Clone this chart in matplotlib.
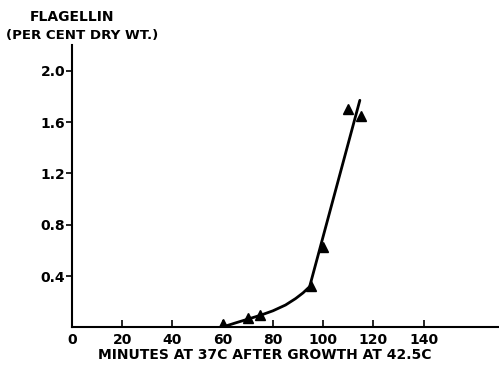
import matplotlib
matplotlib.use("Agg")
import matplotlib.pyplot as plt

# Measured data (triangles)
minutes = [60, 70, 75, 95, 100, 110, 115]
flagellin = [0.03, 0.075, 0.095, 0.32, 0.63, 1.70, 1.65]

# Hand-drawn fitted curve
curve_x = [61, 65, 70, 75, 80, 85, 89, 92, 94.6, 114.6]
curve_y = [0.01, 0.035, 0.065, 0.095, 0.13, 0.175, 0.225, 0.27, 0.318, 1.77]

x_ticks = [0, 20, 40, 60, 80, 100, 120, 140]
y_ticks = [0.4, 0.8, 1.2, 1.6, 2.0]

plt.rcParams['font.family'] = ['DejaVu Sans']

fig = plt.figure(figsize=(4.99, 3.70), dpi=100)
ax = fig.add_axes([0.1443, 0.1149, 0.8557, 0.7632])

ax.plot(curve_x, curve_y, color='black', lw=2.0, solid_capstyle='round', zorder=2)
ax.plot(minutes, flagellin, linestyle='none', marker='^', color='black', markersize=7.5, zorder=3)

ax.set_xlim(0, 170)
ax.set_ylim(0, 2.2)
ax.set_xticks(x_ticks)
ax.set_xticklabels([str(v) for v in x_ticks], fontsize=10, fontweight='bold')
ax.set_yticks(y_ticks)
ax.set_yticklabels([f"{v:.1f}" for v in y_ticks], fontsize=10, fontweight='bold')

for s in ['top', 'right']:
    ax.spines[s].set_visible(False)
for s in ['left', 'bottom']:
    ax.spines[s].set_linewidth(1.5)

ax.tick_params(axis='x', direction='in', length=5, width=1.2, pad=4)
ax.tick_params(axis='y', direction='out', length=4, width=1.2, pad=1)

fig.text(72/499, 1 - 17/370, "FLAGELLIN", ha='center', va='center', fontsize=10, fontweight='bold')
fig.text(82/499, 1 - 35/370, "(PER CENT DRY WT.)", ha='center', va='center', fontsize=9.6, fontweight='bold')
fig.text(265/499, 1 - 355/370, "MINUTES AT 37C AFTER GROWTH AT 42.5C", ha='center', va='center',
         fontsize=10, fontweight='bold')

fig.savefig("out.png", dpi=100)
